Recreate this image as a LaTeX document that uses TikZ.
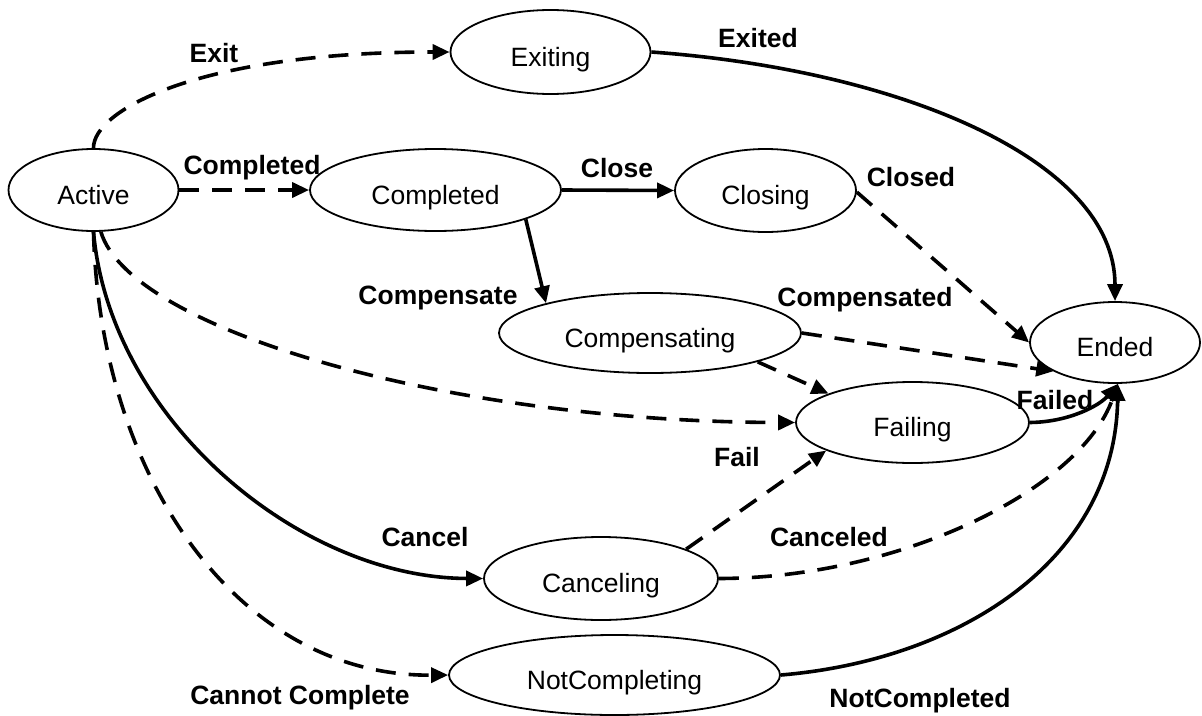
\documentclass[tikz,border=0pt]{standalone}
\usepackage{fontspec}
\setmainfont{Liberation Sans}
\usetikzlibrary{arrows.meta,shapes.geometric}
\begin{document}
\begin{tikzpicture}[x=1pt,y=-1pt,
  st/.style={ellipse,draw,line width=1.8pt,inner sep=0pt,text height=30pt,text depth=2pt,font=\fontsize{26.5}{30}\selectfont},
  lbl/.style={font=\fontsize{26.5}{30}\selectfont\bfseries,inner sep=0pt,anchor=base},
  tr/.style={line width=3.6pt,-{Triangle[length=17pt,width=15pt]}},
  dsh/.style={tr,dash pattern=on 20pt off 13pt}]
\useasboundingbox (0,0) rectangle (1202,715);
% states
\node[st,minimum width=170pt,minimum height=82pt] (active) at (93.5,190) {Active};
\node[st,minimum width=200pt,minimum height=84pt] (exiting) at (550.5,52) {Exiting};
\node[st,minimum width=251pt,minimum height=82pt] (completed) at (435.5,190) {Completed};
\node[st,minimum width=181pt,minimum height=83pt] (closing) at (765.5,190.5) {Closing};
\node[st,minimum width=302pt,minimum height=80pt] (compensating) at (650,333) {Compensating};
\node[st,minimum width=170pt,minimum height=81pt] (ended) at (1115,342.5) {Ended};
\node[st,minimum width=233pt,minimum height=81pt] (failing) at (912.5,422.5) {Failing};
\node[st,minimum width=234pt,minimum height=83pt] (canceling) at (601,578.5) {Canceling};
\node[st,minimum width=331pt,minimum height=80pt] (notcompleting) at (614.5,675) {NotCompleting};
% transitions
\draw[dsh] (active.north) .. controls (93,110) and (200,52) .. (exiting.west);
\draw[dsh] (active.east) -- (completed.west);
\draw[tr] (completed.east) -- (closing.west);
\draw[tr] (completed.-18.7) -- (compensating.164);
\draw[tr] (exiting.east) .. controls (900,70) and (1115,160) .. (ended.north);
\draw[dsh] (closing.-1) -- (ended.west);
\draw[dsh] (compensating.east) -- (ended.205);
\draw[dsh] (active.-80) .. controls (130,330) and (450,422) .. (failing.west);
\draw[dsh] (compensating.-15) -- (failing.161);
\draw[tr] (failing.east) .. controls (1070,422) and (1100,405) .. (ended.-86);
\draw[tr] (active.south) .. controls (110,420) and (300,578) .. (canceling.west);
\draw[dsh] (active.south) .. controls (100,480) and (240,677) .. (notcompleting.west);
\draw[dsh] (canceling.19.4) -- (failing.198.7);
\draw[dsh] (canceling.east) .. controls (900,578) and (1080,490) .. (ended.-86);
\draw[tr] (notcompleting.east) .. controls (960,660) and (1115,560) .. (ended.-86);
% labels
\node[lbl] (lexit) at (214,62) {Exit};
\node[lbl] (lcompleted) at (252,174) {Completed};
\node[lbl] (lclose) at (617,177) {Close};
\node[lbl] (lcompensate) at (438,304) {Compensate};
\node[lbl] (lexited) at (758,47) {Exited};
\node[lbl] (lclosed) at (911,186) {Closed};
\node[lbl] (lcompensated) at (865,306) {Compensated};
\node[lbl] (lfailed) at (1055,409) {Failed};
\node[lbl] (lcancel) at (425,546) {Cancel};
\node[lbl] (lcannot) at (300,704) {Cannot Complete};
\node[lbl] (lfail) at (737,466) {Fail};
\node[lbl] (lcanceled) at (829,546) {Canceled};
\node[lbl] (lnotcompleted) at (920,707) {NotCompleted};
\end{tikzpicture}
\end{document}
